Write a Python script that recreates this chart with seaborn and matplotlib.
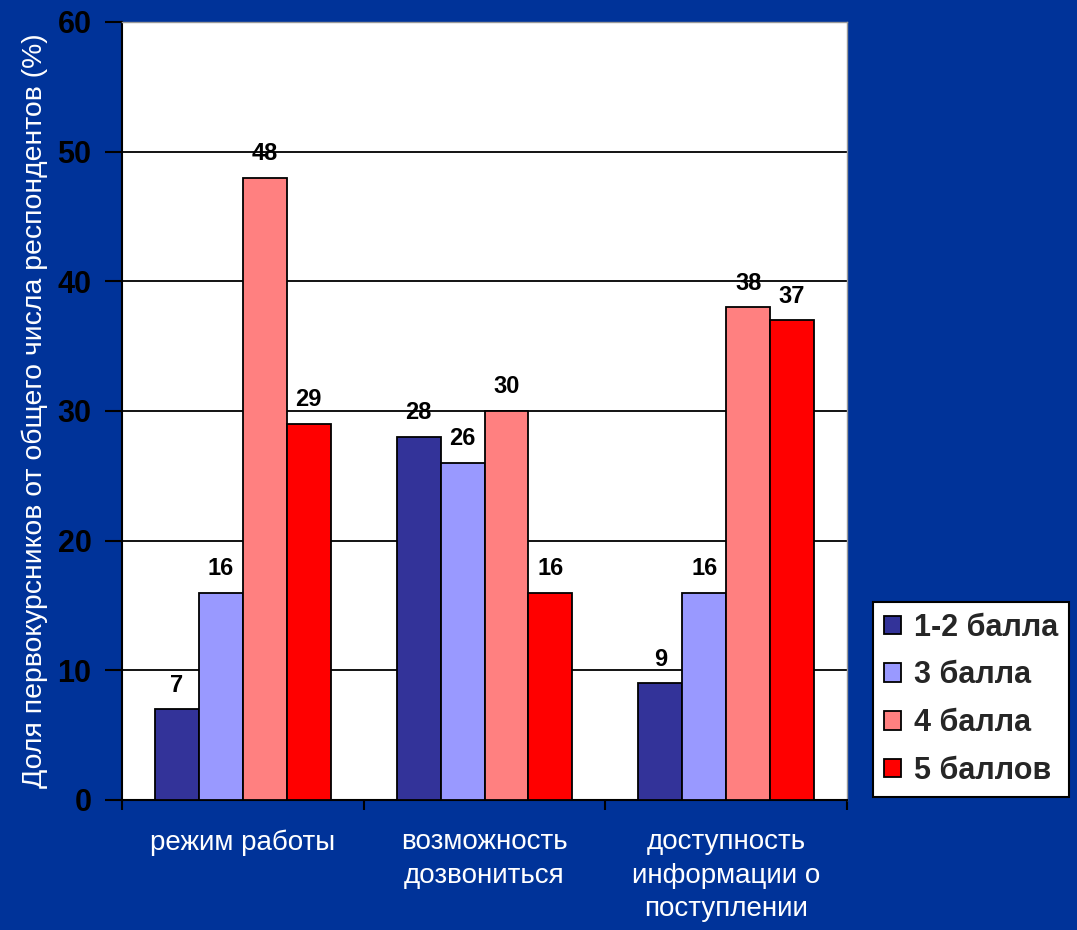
import matplotlib
matplotlib.use("Agg")
import matplotlib.pyplot as plt
import seaborn as sns
import pandas as pd
from matplotlib.patches import Patch

categories = ["режим работы", "возможность\nдозвониться", "доступность\nинформации о\nпоступлении"]
series_names = ["1-2 балла", "3 балла", "4 балла", "5 баллов"]
v_12 = [7, 28, 9]
v_3 = [16, 26, 16]
v_4 = [48, 30, 38]
v_5 = [29, 16, 37]
colors = ["#333399", "#9999FF", "#FF8080", "#FF0000"]
yticks = [0, 10, 20, 30, 40, 50, 60]

rows = []
for name, vals in zip(series_names, [v_12, v_3, v_4, v_5]):
    for c, v in zip(categories, vals):
        rows.append({"cat": c, "series": name, "value": v})
df = pd.DataFrame(rows)

sns.set_theme(style="white")
plt.rcParams['font.family'] = ['Liberation Sans', 'DejaVu Sans']

bg = "#003399"
fig = plt.figure(figsize=(10.77, 9.3), dpi=100, facecolor=bg)
ax = fig.add_axes([0.1133, 0.1398, 0.6732, 0.8366])
ax.set_facecolor("white")

sns.barplot(data=df, x="cat", y="value", hue="series", order=categories,
            hue_order=series_names, palette=colors, width=0.727, gap=0,
            saturation=1, edgecolor="black", linewidth=1.3, ax=ax,
            legend=False, zorder=3)

for cont in ax.containers:
    ax.bar_label(cont, fmt="%d", padding=9, fontsize=17, fontweight="bold", color="black")

ax.set_ylim(0, 60)
ax.set_xlim(-0.5, 2.5)
ax.set_yticks(yticks)
ax.set_yticklabels([str(t) for t in yticks], fontsize=22, fontweight="bold", color="black")
ax.yaxis.grid(True, color="black", linewidth=1.3, zorder=0)
ax.set_axisbelow(True)

ax.set_xticks([0, 1, 2])
ax.set_xticklabels(categories, fontsize=20, color="white", linespacing=1.37)
ax.set_xticks([-0.5, 0.5, 1.5, 2.5], minor=True)
ax.tick_params(axis="x", which="major", length=0, pad=21)
ax.tick_params(axis="x", which="minor", length=7, width=1.5, color="black", direction="out", bottom=True)
ax.tick_params(axis="y", length=12, width=1.5, color="black", direction="out", left=True, pad=10)

ax.set_xlabel("")
ax.set_ylabel("Доля первокурсников от общего числа респондентов (%)", fontsize=20.4,
              color="white", labelpad=7)

for s in ["left", "bottom"]:
    ax.spines[s].set_color("black")
    ax.spines[s].set_linewidth(1.5)
for s in ["top", "right"]:
    ax.spines[s].set_color("#999999")
    ax.spines[s].set_linewidth(1.0)

handles = [Patch(facecolor=c, edgecolor="black", linewidth=1.3) for c in colors]
leg = fig.legend(handles, series_names, loc="upper left",
                 bbox_to_anchor=(873 / 1077, 1 - 602 / 930),
                 frameon=True, fancybox=False, edgecolor="black", facecolor="white",
                 framealpha=1, handlelength=0.55, handleheight=0.55, handletextpad=0.45,
                 labelspacing=0.58, borderpad=0.35, borderaxespad=0,
                 prop={"size": 22, "weight": "bold", "family": "Liberation Sans"})
leg.get_frame().set_linewidth(1.5)

fig.savefig("out.png", dpi=100, facecolor=bg)
